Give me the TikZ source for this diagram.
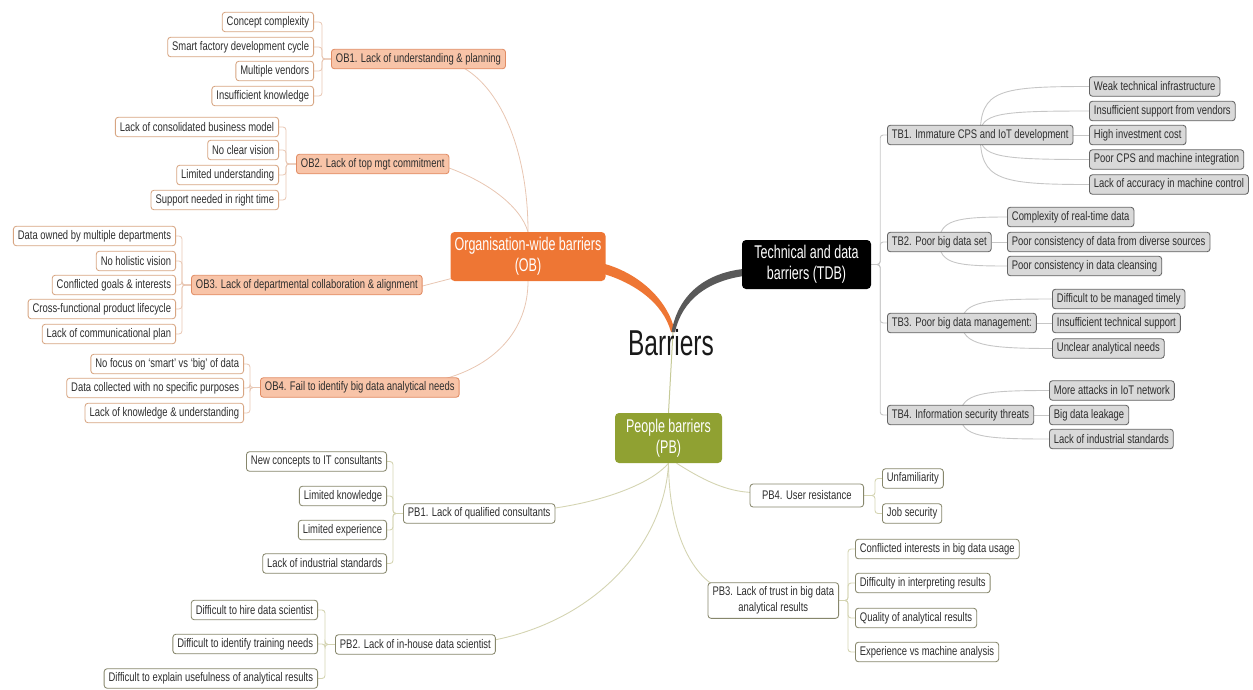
\documentclass[tikz,border=0pt]{standalone}
\usepackage{fontspec}
\setmainfont{Liberation Sans}[FakeStretch=0.755]
\newfontfamily\bigf{Liberation Sans}[FakeStretch=0.68]
\usetikzlibrary{backgrounds}
\definecolor{obmain}{RGB}{238,118,52}
\definecolor{obsubfill}{RGB}{248,196,168}
\definecolor{obsubborder}{RGB}{225,140,100}
\definecolor{obleafborder}{RGB}{215,165,130}
\definecolor{oblinec}{RGB}{232,198,178}
\definecolor{tdbcurve}{RGB}{89,89,89}
\definecolor{tbfill}{RGB}{217,217,217}
\definecolor{tbborder}{RGB}{100,100,100}
\definecolor{tblinec}{RGB}{198,198,198}
\definecolor{pbmain}{RGB}{144,161,50}
\definecolor{pbborder}{RGB}{135,135,108}
\definecolor{pblinec}{RGB}{212,212,178}
\begin{document}
\begin{tikzpicture}[x=1pt,y=-1pt,
  base/.style={rounded corners=3pt, line width=0.85pt, inner xsep=4.5pt, inner ysep=0pt,
    minimum height=19.5pt, font=\fontsize{12.5}{15}\selectfont, text=black!82},
  obsub/.style={base, fill=obsubfill, draw=obsubborder},
  obleaf/.style={base, fill=white, draw=obleafborder},
  tbbox/.style={base, fill=tbfill, draw=tbborder},
  pbbox/.style={base, fill=white, draw=pbborder},
  mainbox/.style={rounded corners=4pt, minimum height=49pt, align=center, text=white,
    inner xsep=2pt, font=\bigf\fontsize{18.4}{21}\selectfont},
  obline/.style={draw=oblinec, line width=0.8pt},
  tbline/.style={draw=tblinec, line width=0.9pt},
  pbline/.style={draw=pblinec, line width=0.9pt},
  brk/.style={rounded corners=3pt}
]
\useasboundingbox (0,0) rectangle (1253,689);

% central
\node[font=\bigf\fontsize{36}{40}\selectfont, text=black!90] (root) at (671,343) {Barriers};
\coordinate (hub) at (673,332);

% main branches
\node[mainbox, fill=obmain, minimum width=155pt] (ob) at (528,256.5) {Organisation-wide barriers\\(OB)};
\node[mainbox, fill=black, minimum width=129pt] (tdb) at (806.5,264.5) {Technical and data\\barriers (TDB)};
\node[mainbox, fill=pbmain, minimum width=107pt, minimum height=50pt] (pb) at (668.5,438) {People barriers\\(PB)};

% OB sub-branches
\node[obsub, anchor=west] (ob1) at (331,59) {OB1. Lack of understanding \& planning};
\node[obsub, anchor=west] (ob2) at (296,164) {OB2. Lack of top mgt commitment};
\node[obsub, anchor=west] (ob3) at (191,285) {OB3. Lack of departmental collaboration \& alignment};
\node[obsub, anchor=west] (ob4) at (260,387.5) {OB4. Fail to identify big data analytical needs};

\node[obleaf, anchor=east] (ob1a) at (314,22) {Concept complexity};
\node[obleaf, anchor=east] (ob1b) at (314,47) {Smart factory development cycle};
\node[obleaf, anchor=east] (ob1c) at (314,71) {Multiple vendors};
\node[obleaf, anchor=east] (ob1d) at (314,96) {Insufficient knowledge};
\node[obleaf, anchor=east] (ob2a) at (279,127) {Lack of consolidated business model};
\node[obleaf, anchor=east] (ob2b) at (279,150) {No clear vision};
\node[obleaf, anchor=east] (ob2c) at (279,175) {Limited understanding};
\node[obleaf, anchor=east] (ob2d) at (279,200) {Support needed in right time};
\node[obleaf, anchor=east] (ob3a) at (176,236) {Data owned by multiple departments};
\node[obleaf, anchor=east] (ob3b) at (176,261) {No holistic vision};
\node[obleaf, anchor=east] (ob3c) at (176,285) {Conflicted goals \& interests};
\node[obleaf, anchor=east] (ob3d) at (176,309) {Cross-functional product lifecycle};
\node[obleaf, anchor=east] (ob3e) at (176,334) {Lack of communicational plan};
\node[obleaf, anchor=east] (ob4a) at (244,364) {No focus on `smart' vs `big' of data};
\node[obleaf, anchor=east] (ob4b) at (244,388) {Data collected with no specific purposes};
\node[obleaf, anchor=east] (ob4c) at (244,413) {Lack of knowledge \& understanding};

% TB sub-branches
\node[tbbox, anchor=west] (tb1) at (887,135) {TB1. Immature CPS and IoT development};
\node[tbbox, anchor=west] (tb2) at (887,242) {TB2. Poor big data set};
\node[tbbox, anchor=west] (tb3) at (887,323) {TB3. Poor big data management:};
\node[tbbox, anchor=west] (tb4) at (887,415) {TB4. Information security threats};

\node[tbbox, anchor=west] (tb1a) at (1089,86.5) {Weak technical infrastructure};
\node[tbbox, anchor=west] (tb1b) at (1089,111) {Insufficient support from vendors};
\node[tbbox, anchor=west] (tb1c) at (1089,135) {High investment cost};
\node[tbbox, anchor=west] (tb1d) at (1089,159.5) {Poor CPS and machine integration};
\node[tbbox, anchor=west] (tb1e) at (1089,184.5) {Lack of accuracy in machine control};
\node[tbbox, anchor=west] (tb2a) at (1007,217) {Complexity of real-time data};
\node[tbbox, anchor=west] (tb2b) at (1007,242) {Poor consistency of data from diverse sources};
\node[tbbox, anchor=west] (tb2c) at (1007,266) {Poor consistency in data cleansing};
\node[tbbox, anchor=west] (tb3a) at (1052,299) {Difficult to be managed timely};
\node[tbbox, anchor=west] (tb3b) at (1052,323) {Insufficient technical support};
\node[tbbox, anchor=west] (tb3c) at (1052,348.5) {Unclear analytical needs};
\node[tbbox, anchor=west] (tb4a) at (1049,390.5) {More attacks in IoT network};
\node[tbbox, anchor=west] (tb4b) at (1049,415) {Big data leakage};
\node[tbbox, anchor=west] (tb4c) at (1049,439) {Lack of industrial standards};

% PB sub-branches
\node[pbbox, anchor=west] (pb1) at (403,513.5) {PB1. Lack of qualified consultants};
\node[pbbox, anchor=west] (pb2) at (335,644.5) {PB2. Lack of in-house data scientist};
\node[pbbox, anchor=east, align=center, inner ysep=4pt, font=\fontsize{12.5}{16}\selectfont] (pb3) at (839,600.5) {PB3. Lack of trust in big data\\analytical results};
\node[pbbox, anchor=east, inner xsep=12pt, minimum height=23pt] (pb4) at (864,495.5) {PB4. User resistance};

\node[pbbox, anchor=east] (pb1a) at (387,461.5) {New concepts to IT consultants};
\node[pbbox, anchor=east] (pb1b) at (387,496) {Limited knowledge};
\node[pbbox, anchor=east] (pb1c) at (387,530) {Limited experience};
\node[pbbox, anchor=east] (pb1d) at (387,563.5) {Lack of industrial standards};
\node[pbbox, anchor=east] (pb2a) at (318,610) {Difficult to hire data scientist};
\node[pbbox, anchor=east] (pb2b) at (318,644) {Difficult to identify training needs};
\node[pbbox, anchor=east] (pb2c) at (318,678.5) {Difficult to explain usefulness of analytical results};
\node[pbbox, anchor=west] (pb3a) at (855,549) {Conflicted interests in big data usage};
\node[pbbox, anchor=west] (pb3b) at (855,583) {Difficulty in interpreting results};
\node[pbbox, anchor=west] (pb3c) at (855,618) {Quality of analytical results};
\node[pbbox, anchor=west] (pb3d) at (855,652) {Experience vs machine analysis};
\node[pbbox, anchor=west] (pb4a) at (882,478.5) {Unfamiliarity};
\node[pbbox, anchor=west] (pb4b) at (882,513.5) {Job security};

\begin{scope}[on background layer]
  % thick tapered main connectors
  \fill[obmain] ([xshift=-8pt,yshift=19pt]ob.south east) .. controls (635,270) and (668,298) .. ([xshift=2pt]hub)
     -- ([xshift=-2pt]hub) .. controls (663,302) and (632,281) .. ([xshift=-8pt,yshift=9pt]ob.south east) -- cycle;
  \fill[tdbcurve] ([xshift=6pt,yshift=-4pt]tdb.west) .. controls (705,272) and (678,295) .. ([xshift=-1.5pt]hub)
     -- ([xshift=2pt]hub) .. controls (682,300) and (708,280) .. ([xshift=6pt,yshift=-11pt]tdb.west) -- cycle;
  \draw[pblinec!80!pbmain, line width=1pt] (hub) -- (pb.north);

  % OB connectors
  \draw[obline] (ob.north) .. controls (528,150) and (500,85) .. ([xshift=40pt,yshift=4pt]ob1.south);
  \draw[obline] (ob.north) .. controls (520,205) and (485,180) .. ([xshift=-6pt,yshift=-2pt]ob2.east);
  \draw[obline] ([xshift=-4pt,yshift=-2pt]ob3.east) -- ([xshift=6pt,yshift=4pt]ob.south west);
  \draw[obline] (ob.south) .. controls (528,330) and (495,368) .. ([xshift=-25pt,yshift=-4pt]ob4.north east);
  \foreach \l in {ob1a,ob1b,ob1c,ob1d} \draw[obline,brk] (ob1.west) -- ++(-9,0) |- (\l.east);
  \foreach \l in {ob2a,ob2b,ob2c,ob2d} \draw[obline,brk] (ob2.west) -- ++(-10,0) |- (\l.east);
  \foreach \l in {ob3a,ob3b,ob3c,ob3d,ob3e} \draw[obline,brk] (ob3.west) -- ++(-9,0) |- (\l.east);
  \foreach \l in {ob4a,ob4b,ob4c} \draw[obline,brk] (ob4.west) -- ++(-10,0) |- (\l.east);

  % TB connectors
  \foreach \t in {tb1,tb2,tb3,tb4} \draw[tbline,brk] (tdb.east) -- ++(9,0) |- (\t.west);
  \draw[tbline] (tb1.center) .. controls +(0,-45) and +(-90,0) .. (tb1a.west);
  \draw[tbline] (tb1.center) .. controls +(0,-22) and +(-90,0) .. (tb1b.west);
  \draw[tbline] (tb1.east) -- (tb1c.west);
  \draw[tbline] (tb1.center) .. controls +(0,22) and +(-90,0) .. (tb1d.west);
  \draw[tbline] (tb1.center) .. controls +(0,45) and +(-90,0) .. (tb1e.west);
  \draw[tbline] (tb2.center) .. controls +(0,-22) and +(-50,0) .. (tb2a.west);
  \draw[tbline] (tb2.east) -- (tb2b.west);
  \draw[tbline] (tb2.center) .. controls +(0,22) and +(-50,0) .. (tb2c.west);
  \draw[tbline] (tb3.center) .. controls +(0,-22) and +(-65,0) .. (tb3a.west);
  \draw[tbline] (tb3.east) -- (tb3b.west);
  \draw[tbline] (tb3.center) .. controls +(0,22) and +(-65,0) .. (tb3c.west);
  \draw[tbline] (tb4.center) .. controls +(0,-22) and +(-65,0) .. (tb4a.west);
  \draw[tbline] (tb4.east) -- (tb4b.west);
  \draw[tbline] (tb4.center) .. controls +(0,22) and +(-65,0) .. (tb4c.west);

  % PB connectors
  \draw[pbline] (pb.south) .. controls (650,485) and (600,502) .. ([xshift=-4pt,yshift=5pt]pb1.east);
  \draw[pbline] (pb.south) .. controls (665,540) and (600,620) .. ([xshift=-4pt,yshift=4pt]pb2.east);
  \draw[pbline] (pb.south) .. controls (669,530) and (690,570) .. ([xshift=6pt,yshift=-3pt]pb3.north west);
  \draw[pbline] ([xshift=8pt]pb.south) .. controls (700,478) and (725,492) .. ([xshift=4pt,yshift=3pt]pb4.west);
  \foreach \l in {pb1a,pb1b,pb1c,pb1d} \draw[pbline,brk] (pb1.west) -- ++(-10,0) |- (\l.east);
  \foreach \l in {pb2a,pb2b,pb2c} \draw[pbline,brk] (pb2.west) -- ++(-10,0) |- (\l.east);
  \foreach \l in {pb3a,pb3b,pb3c,pb3d} \draw[pbline,brk] (pb3.east) -- ++(9,0) |- (\l.west);
  \foreach \l in {pb4a,pb4b} \draw[pbline,brk] (pb4.east) -- ++(11,0) |- (\l.west);
\end{scope}
\end{tikzpicture}
\end{document}
